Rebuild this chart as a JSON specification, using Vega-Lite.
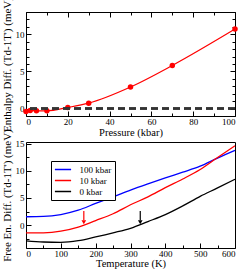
{
  "$schema": "https://vega.github.io/schema/vega-lite/v6.json",
  "padding": {"left": 0, "top": -4, "right": 5, "bottom": 0},
  "bounds": "flush",
  "spacing": 26,
  "config": {
    "view": {"stroke": "black", "strokeWidth": 1},
    "axis": {
      "domain": false, "grid": false,
      "labelFont": "Liberation Serif", "labelFontSize": 9, "labelColor": "black",
      "titleFont": "Liberation Serif", "titleFontSize": 11, "titleFontWeight": "normal", "titleColor": "black",
      "tickColor": "black", "tickWidth": 1
    },
    "axisX": {"titleFont": "Liberation Serif", "titleFontWeight": "normal", "titleFontSize": 10.5},
    "legend": {"labelFont": "Liberation Serif", "labelFontSize": 9, "labelColor": "black"}
  },
  "vconcat": [
    {
      "width": 209, "height": 104,
      "data": {"values": [
        {"P": 0, "E": -0.4}, {"P": 2, "E": -0.27}, {"P": 5, "E": -0.3}, {"P": 10, "E": -0.3},
        {"P": 20, "E": 0.15}, {"P": 30, "E": 0.73}, {"P": 50, "E": 2.9}, {"P": 70, "E": 5.8}, {"P": 100, "E": 10.7}
      ]},
      "layer": [
        {
          "mark": {"type": "line", "color": "#ff0000", "strokeWidth": 1.2, "interpolate": "monotone"},
          "encoding": {
            "x": {"field": "P", "type": "quantitative", "scale": {"domain": [0, 100], "nice": false},
              "axis": {"orient": "bottom", "title": "Pressure (kbar)", "titleFont": "Liberation Serif", "titleFontWeight": "normal", "titleFontSize": 10.5,
                "values": [0,10,20,30,40,50,60,70,80,90,100],
                "labelExpr": "datum.value % 20 === 0 ? datum.label : ''",
                "tickSize": {"condition": {"test": "datum.value % 20 === 0", "value": -5}, "value": -3},
                "labelPadding": 6, "titlePadding": 1}},
            "y": {"field": "E", "type": "quantitative", "scale": {"domain": [-1, 13], "nice": false, "zero": false},
              "axis": {"orient": "left", "title": "Enthalpy Diff. (Td-1T') (meV)", "values": [-1,0,1,2,3,4,5,6,7,8,9,10,11,12,13],
                "labelExpr": "datum.value % 5 === 0 ? datum.label : ''",
                "tickSize": {"condition": {"test": "datum.value % 5 === 0", "value": -5}, "value": -3},
                "labelPadding": 7, "titlePadding": 3}}
          }
        },
        {
          "mark": {"type": "point", "filled": true, "color": "#ff0000", "size": 30, "opacity": 1},
          "encoding": {
            "x": {"field": "P", "type": "quantitative",
              "axis": {"orient": "top", "title": null, "labels": false, "values": [0,10,20,30,40,50,60,70,80,90,100],
                "tickSize": {"condition": {"test": "datum.value % 20 === 0", "value": -5}, "value": -3}}},
            "y": {"field": "E", "type": "quantitative",
              "axis": {"orient": "right", "title": null, "labels": false, "values": [-1,0,1,2,3,4,5,6,7,8,9,10,11,12,13],
                "tickSize": {"condition": {"test": "datum.value % 5 === 0", "value": -5}, "value": -3}}}
          }
        },
        {
          "mark": {"type": "rule", "color": "#333333", "strokeWidth": 1.5, "strokeDash": [7, 4]},
          "encoding": {"y": {"datum": 0, "type": "quantitative", "axis": null}}
        }
      ],
      "resolve": {"axis": {"x": "independent", "y": "independent"}}
    },
    {
      "width": 209, "height": 106,
      "layer": [
        {
          "data": {"values": [
            {"T": 0, "F": 1.55, "s": "100 kbar"}, {"T": 50, "F": 1.6, "s": "100 kbar"}, {"T": 100, "F": 1.95, "s": "100 kbar"},
            {"T": 150, "F": 2.75, "s": "100 kbar"}, {"T": 200, "F": 4.0, "s": "100 kbar"}, {"T": 250, "F": 5.2, "s": "100 kbar"},
            {"T": 300, "F": 6.45, "s": "100 kbar"}, {"T": 350, "F": 7.6, "s": "100 kbar"}, {"T": 400, "F": 8.7, "s": "100 kbar"},
            {"T": 450, "F": 9.75, "s": "100 kbar"}, {"T": 500, "F": 10.85, "s": "100 kbar"}, {"T": 550, "F": 12.35, "s": "100 kbar"},
            {"T": 600, "F": 13.75, "s": "100 kbar"},
            {"T": 0, "F": -1.42, "s": "10 kbar"}, {"T": 50, "F": -1.4, "s": "10 kbar"}, {"T": 100, "F": -1.1, "s": "10 kbar"},
            {"T": 150, "F": -0.35, "s": "10 kbar"}, {"T": 200, "F": 0.85, "s": "10 kbar"}, {"T": 250, "F": 2.1, "s": "10 kbar"},
            {"T": 300, "F": 3.75, "s": "10 kbar"}, {"T": 350, "F": 5.2, "s": "10 kbar"}, {"T": 400, "F": 6.9, "s": "10 kbar"},
            {"T": 450, "F": 8.5, "s": "10 kbar"}, {"T": 500, "F": 10.25, "s": "10 kbar"}, {"T": 550, "F": 12.45, "s": "10 kbar"},
            {"T": 600, "F": 14.6, "s": "10 kbar"},
            {"T": 0, "F": -2.9, "s": "0 kbar"}, {"T": 50, "F": -3.1, "s": "0 kbar"}, {"T": 100, "F": -3.15, "s": "0 kbar"},
            {"T": 150, "F": -2.85, "s": "0 kbar"}, {"T": 200, "F": -2.15, "s": "0 kbar"}, {"T": 250, "F": -1.4, "s": "0 kbar"},
            {"T": 300, "F": -0.58, "s": "0 kbar"}, {"T": 350, "F": 0.66, "s": "0 kbar"}, {"T": 400, "F": 1.95, "s": "0 kbar"},
            {"T": 450, "F": 3.55, "s": "0 kbar"}, {"T": 500, "F": 5.3, "s": "0 kbar"}, {"T": 550, "F": 6.85, "s": "0 kbar"},
            {"T": 600, "F": 8.45, "s": "0 kbar"}
          ]},
          "mark": {"type": "line", "strokeWidth": 1.3, "interpolate": "monotone"},
          "encoding": {
            "x": {"field": "T", "type": "quantitative", "scale": {"domain": [0, 600], "nice": false},
              "axis": {"orient": "bottom", "title": "Temperature (K)", "titleFont": "Liberation Serif", "titleFontWeight": "normal", "titleFontSize": 10.5,
                "values": [0,50,100,150,200,250,300,350,400,450,500,550,600],
                "labelExpr": "datum.value % 100 === 0 ? datum.label : ''",
                "tickSize": {"condition": {"test": "datum.value % 100 === 0", "value": -5}, "value": -3},
                "labelPadding": 6, "titlePadding": 0}},
            "y": {"field": "F", "type": "quantitative", "scale": {"domain": [-4.2, 15.3], "nice": false, "zero": false},
              "axis": {"orient": "left", "title": "Free En. Diff. (Td-1T') (meV)", "values": [-2.5,0,2.5,5,7.5,10,12.5,15],
                "labelExpr": "datum.value % 5 === 0 ? datum.label : ''",
                "tickSize": {"condition": {"test": "datum.value % 5 === 0", "value": -5}, "value": -3},
                "labelPadding": 7, "titlePadding": 3}},
            "color": {"field": "s", "type": "nominal", "sort": ["100 kbar", "10 kbar", "0 kbar"],
              "scale": {"domain": ["100 kbar", "10 kbar", "0 kbar"], "range": ["#0000ff", "#ff0000", "#000000"]},
              "legend": {"title": null, "orient": "none", "legendX": 25, "legendY": 149, "symbolType": "M-1.8,0H1.8",
                "symbolSize": 81, "symbolStrokeWidth": 1.5, "symbolOffset": 3.5, "strokeColor": "black", "fillColor": "white",
                "padding": 3, "rowPadding": 0, "labelOffset": 11}}
          }
        },
        {
          "mark": {"type": "rule", "color": "black", "strokeWidth": 1.2, "strokeDash": [5, 4]},
          "encoding": {"y": {"datum": 0, "type": "quantitative", "axis": null}}
        },
        {
          "data": {"values": [
            {"T": 166, "top": 2.6, "bot": 0.9, "tip": 0.55, "s": "10 kbar"},
            {"T": 328, "top": 2.6, "bot": 0.9, "tip": 0.55, "s": "0 kbar"}
          ]},
          "layer": [
            {
              "mark": {"type": "rule", "strokeWidth": 1.2},
              "encoding": {
                "x": {"field": "T", "type": "quantitative",
                  "axis": {"orient": "top", "title": null, "labels": false, "values": [0,50,100,150,200,250,300,350,400,450,500,550,600],
                    "tickSize": {"condition": {"test": "datum.value % 100 === 0", "value": -5}, "value": -3}}},
                "y": {"field": "top", "type": "quantitative",
                  "axis": {"orient": "right", "title": null, "labels": false, "values": [-2.5,0,2.5,5,7.5,10,12.5,15],
                    "tickSize": {"condition": {"test": "datum.value % 5 === 0", "value": -5}, "value": -3}}},
                "y2": {"field": "bot"},
                "color": {"field": "s", "type": "nominal", "legend": null}
              }
            },
            {
              "mark": {"type": "point", "shape": "triangle-down", "filled": true, "size": 22, "opacity": 1},
              "encoding": {
                "x": {"field": "T", "type": "quantitative", "axis": null},
                "y": {"field": "tip", "type": "quantitative", "axis": null},
                "color": {"field": "s", "type": "nominal", "legend": null}
              }
            }
          ]
        }
      ],
      "resolve": {"axis": {"x": "independent", "y": "independent"}}
    }
  ]
}
